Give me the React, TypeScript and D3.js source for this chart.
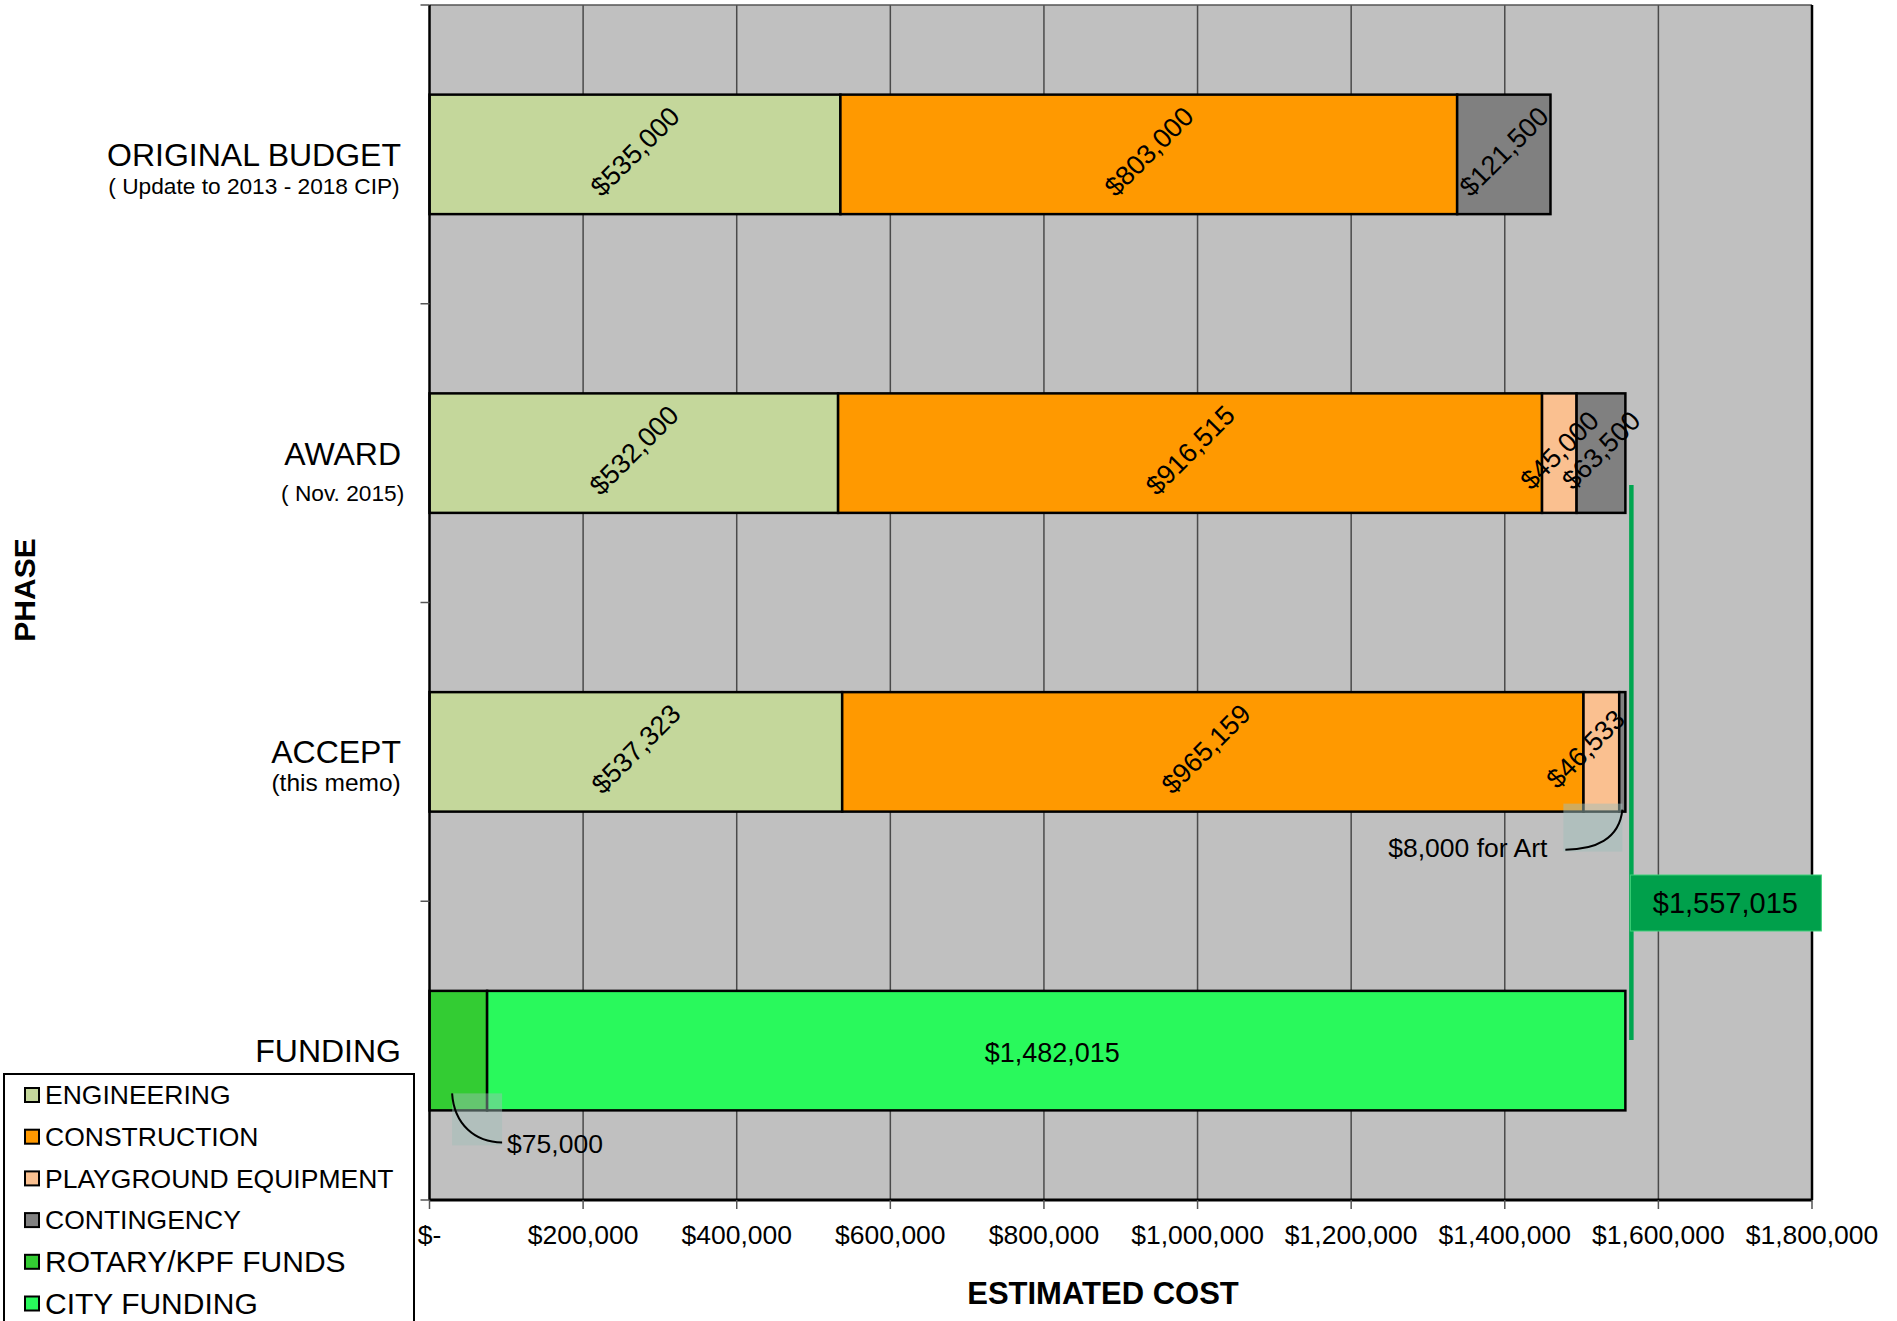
import React, { useEffect, useRef } from "react";
import * as d3 from "d3";

const categories = ["ORIGINAL BUDGET", "AWARD", "ACCEPT", "FUNDING"];
const subtitles = ["( Update to 2013 - 2018 CIP)", "( Nov. 2015)", "(this memo)", ""];
const seriesNames = [
  "ENGINEERING",
  "CONSTRUCTION",
  "PLAYGROUND EQUIPMENT",
  "CONTINGENCY",
  "ROTARY/KPF FUNDS",
  "CITY FUNDING",
];
const engineering = [535000, 532000, 537323, 0];
const construction = [803000, 916515, 965159, 0];
const playground = [0, 45000, 46533, 0];
const contingency = [121500, 63500, 8000, 0];
const rotaryFunds = [0, 0, 0, 75000];
const cityFunding = [0, 0, 0, 1482015];
const xTicks = [0, 200000, 400000, 600000, 800000, 1000000, 1200000, 1400000, 1600000, 1800000];
const totalCost = 1557015;
const artNote = "$8,000 for Art";
const rotaryNote = "$75,000";

const seriesColors = ["#c4d79b", "#ff9900", "#fac090", "#808080", "#33cc33", "#29f95c"];
const FONT = "'Liberation Sans', Arial, sans-serif";

export default function App() {
  const ref = useRef<SVGSVGElement | null>(null);

  useEffect(() => {
    const svg = d3.select(ref.current);
    svg.selectAll("*").remove();

    const left = 429.5, right = 1812, top = 5, bottom = 1200;
    const x = d3.scaleLinear().domain([0, 1800000]).range([left, right]);
    const y = d3.scaleBand<string>().domain(categories).range([top, bottom]).paddingInner(0.6).paddingOuter(0.3);
    const step = y.step();

    const rows = categories.map((c, i) => ({
      cat: c,
      s0: engineering[i],
      s1: construction[i],
      s2: playground[i],
      s3: contingency[i],
      s4: rotaryFunds[i],
      s5: cityFunding[i],
    }));
    const keys = ["s0", "s1", "s2", "s3", "s4", "s5"];
    const stacked = d3.stack<any>().keys(keys)(rows);

    // background
    svg.append("rect").attr("x", left).attr("y", top).attr("width", right - left).attr("height", bottom - top).attr("fill", "#c0c0c0");

    // gridlines
    svg.append("g").selectAll("line").data(xTicks.slice(1, -1)).join("line")
      .attr("x1", (d) => x(d)).attr("x2", (d) => x(d)).attr("y1", top).attr("y2", bottom)
      .attr("stroke", "#4a4a4a").attr("stroke-width", 1.5);

    // bars
    stacked.forEach((layer, si) => {
      svg.append("g").selectAll("rect").data(layer.filter((d: any) => d[1] - d[0] > 0)).join("rect")
        .attr("x", (d: any) => x(d[0]))
        .attr("y", (d: any) => y(d.data.cat)!)
        .attr("width", (d: any) => x(d[1]) - x(d[0]))
        .attr("height", y.bandwidth())
        .attr("fill", seriesColors[si])
        .attr("stroke", "#000").attr("stroke-width", 2.5);
    });

    // segment labels
    const fmt = d3.format("$,");
    stacked.forEach((layer, si) => {
      layer.forEach((d: any) => {
        const v = d[1] - d[0];
        if (v <= 0) return;
        const cat = d.data.cat;
        if (cat === "ACCEPT" && si === 3) return; // art callout instead
        if (cat === "FUNDING" && si === 4) return; // rotary callout instead
        let cx = x((d[0] + d[1]) / 2);
        if (cat === "ACCEPT" && si === 2) cx -= 16;
        if (cat === "ACCEPT" && si === 1) cx -= 7;
        const cy = y(cat)! + y.bandwidth() / 2;
        const rotated = cat !== "FUNDING";
        svg.append("text")
          .attr("transform", rotated ? `translate(${cx},${cy - 3}) rotate(-45)` : `translate(${cx - 4},${cy + 2})`)
          .attr("text-anchor", "middle").attr("dy", "0.35em")
          .attr("font-family", FONT).attr("font-size", rotated ? 27 : 27).attr("fill", "#000")
          .text(fmt(v));
      });
    });

    // plot border
    svg.append("line").attr("x1", left).attr("x2", right).attr("y1", top).attr("y2", top).attr("stroke", "#555").attr("stroke-width", 1.5);
    svg.append("line").attr("x1", right).attr("x2", right).attr("y1", top).attr("y2", bottom).attr("stroke", "#000").attr("stroke-width", 2.5);
    svg.append("line").attr("x1", left).attr("x2", right).attr("y1", bottom).attr("y2", bottom).attr("stroke", "#000").attr("stroke-width", 3);
    svg.append("line").attr("x1", left).attr("x2", left).attr("y1", top).attr("y2", bottom).attr("stroke", "#000").attr("stroke-width", 2.5);

    // y ticks between categories
    const bounds = categories.map((c) => y(c)! - (step * y.paddingInner()) / 2);
    bounds.push(bottom);
    bounds[0] = top;
    svg.append("g").selectAll("line").data(bounds).join("line")
      .attr("x1", left - 9).attr("x2", left).attr("y1", (d) => d).attr("y2", (d) => d)
      .attr("stroke", "#555").attr("stroke-width", 1.5);

    // x ticks
    svg.append("g").selectAll("line").data(xTicks).join("line")
      .attr("x1", (d) => x(d)).attr("x2", (d) => x(d)).attr("y1", bottom).attr("y2", bottom + 9)
      .attr("stroke", "#555").attr("stroke-width", 1.5);
    svg.append("g").selectAll("text").data(xTicks).join("text")
      .attr("x", (d) => x(d) + (d === 0 ? 0 : 0)).attr("y", 1235).attr("dy", "0.35em")
      .attr("text-anchor", "middle").attr("font-family", FONT).attr("font-size", 26.5)
      .text((d) => (d === 0 ? "$-" : fmt(d)));

    // category labels
    const subOffsets = [40, 48, 39, 0];
    const subSizes = [22.7, 22.7, 24.5, 0];
    categories.forEach((c, i) => {
      const cy = y(c)! + y.bandwidth() / 2;
      const main = svg.append("text").attr("x", 401).attr("y", cy + 11.5).attr("text-anchor", "end")
        .attr("font-family", FONT).attr("font-size", 32).text(c);
      if (subtitles[i]) {
        const w = (main.node() as SVGTextElement).getComputedTextLength();
        svg.append("text").attr("x", 401 - w / 2).attr("y", cy + subOffsets[i]).attr("text-anchor", "middle")
          .attr("font-family", FONT).attr("font-size", subSizes[i]).text(subtitles[i]);
      }
    });

    // axis titles
    svg.append("text").attr("transform", "translate(35,590) rotate(-90)").attr("text-anchor", "middle")
      .attr("font-family", FONT).attr("font-weight", "bold").attr("font-size", 30).text("PHASE");
    svg.append("text").attr("x", 1103).attr("y", 1293).attr("dy", "0.35em").attr("text-anchor", "middle")
      .attr("font-family", FONT).attr("font-weight", "bold").attr("font-size", 31).text("ESTIMATED COST");

    // art callout
    const acceptBottom = y("ACCEPT")! + y.bandwidth();
    const artX = x(totalCost) - 3;
    svg.append("rect").attr("x", artX - 59).attr("y", acceptBottom - 8).attr("width", 59).attr("height", 48)
      .attr("fill", "rgba(160,190,185,0.5)");
    svg.append("path")
      .attr("d", `M${artX},${acceptBottom - 2} C${artX - 3},${acceptBottom + 28} ${artX - 28},${acceptBottom + 38} ${artX - 57},${acceptBottom + 38}`)
      .attr("fill", "none").attr("stroke", "#000").attr("stroke-width", 2);
    svg.append("text").attr("x", artX - 75).attr("y", acceptBottom + 36).attr("dy", "0.35em").attr("text-anchor", "end")
      .attr("font-family", FONT).attr("font-size", 26.5).text(artNote);

    // rotary callout
    const fundBottom = y("FUNDING")! + y.bandwidth();
    const rx = x(rotaryFunds[3]);
    svg.append("rect").attr("x", rx - 35).attr("y", fundBottom - 17).attr("width", 50).attr("height", 52)
      .attr("fill", "rgba(160,190,185,0.45)");
    svg.append("path")
      .attr("d", `M${rx - 35},${fundBottom - 17} C${rx - 33},${fundBottom + 14} ${rx - 12},${fundBottom + 32} ${rx + 15},${fundBottom + 32}`)
      .attr("fill", "none").attr("stroke", "#000").attr("stroke-width", 2);
    svg.append("text").attr("x", rx + 20).attr("y", fundBottom + 33).attr("dy", "0.35em")
      .attr("font-family", FONT).attr("font-size", 26.5).text(rotaryNote);

    // total marker
    const tx = x(totalCost) + 6;
    svg.append("line").attr("x1", tx).attr("x2", tx).attr("y1", 485).attr("y2", 1040)
      .attr("stroke", "#00a650").attr("stroke-width", 4.5);
    svg.append("rect").attr("x", tx - 1).attr("y", 875).attr("width", 191).attr("height", 56)
      .attr("fill", "#00a04b").attr("stroke", "#3fd07a").attr("stroke-width", 1);
    svg.append("text").attr("x", tx + 94).attr("y", 903).attr("dy", "0.35em").attr("text-anchor", "middle")
      .attr("font-family", FONT).attr("font-size", 29).text(fmt(totalCost));

    // legend
    svg.append("rect").attr("x", 4).attr("y", 1074).attr("width", 410).attr("height", 300)
      .attr("fill", "#fff").attr("stroke", "#000").attr("stroke-width", 2);
    const legendSizes = [26.5, 26.5, 26.5, 26.5, 30, 30];
    const lg = svg.append("g").selectAll("g").data(seriesNames).join("g")
      .attr("transform", (_d, i) => `translate(0,${1095 + i * 41.7})`);
    lg.append("rect").attr("x", 25).attr("y", -7).attr("width", 14).attr("height", 14)
      .attr("fill", (_d, i) => seriesColors[i]).attr("stroke", "#000").attr("stroke-width", 2);
    lg.append("text").attr("x", 45).attr("dy", "0.35em").attr("font-family", FONT)
      .attr("font-size", (_d, i) => legendSizes[i])
      .text((d) => d);
  }, []);

  return (
    <svg
      ref={ref}
      width={1897}
      height={1321}
      style={{ position: "absolute", left: 0, top: 0, background: "#fff" }}
    />
  );
}
